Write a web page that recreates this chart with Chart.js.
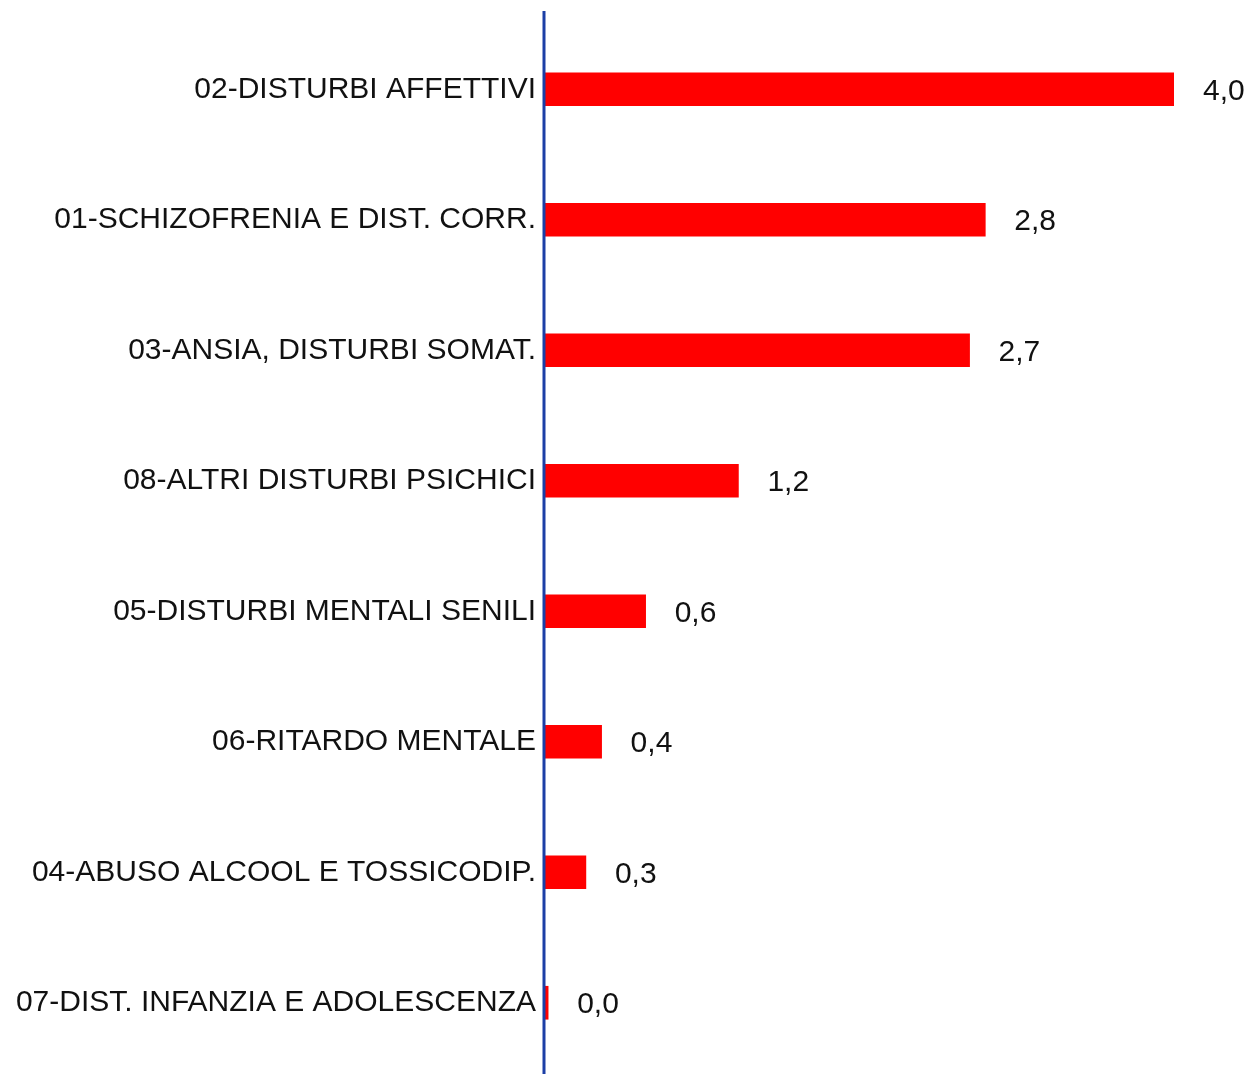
<!DOCTYPE html>
<html>
<head>
<meta charset="utf-8">
<script src="https://cdn.jsdelivr.net/npm/chart.js@4/dist/chart.umd.min.js"></script>
<style>
  html, body { margin: 0; padding: 0; background: #ffffff; }
  #wrap { width: 1250px; height: 1074px; }
</style>
</head>
<body>
<div id="wrap"><canvas id="c" width="1250" height="1074"></canvas></div>
<script>
const categories = [
  "02-DISTURBI AFFETTIVI",
  "01-SCHIZOFRENIA E DIST. CORR.",
  "03-ANSIA, DISTURBI SOMAT.",
  "08-ALTRI DISTURBI PSICHICI",
  "05-DISTURBI MENTALI SENILI",
  "06-RITARDO MENTALE",
  "04-ABUSO ALCOOL E TOSSICODIP.",
  "07-DIST. INFANZIA E ADOLESCENZA"
];
const values = [4.0, 2.8, 2.7, 1.23, 0.64, 0.36, 0.26, 0.02];
const axisMin = 0;
const axisMax = 4.0;

const FONT = "'Liberation Sans', Arial, sans-serif";

const valueLabels = {
  id: 'valueLabels',
  afterDatasetsDraw(chart) {
    const ctx = chart.ctx;
    const meta = chart.getDatasetMeta(0);
    ctx.save();
    ctx.font = "30px " + FONT;
    ctx.fillStyle = "#111111";
    ctx.textAlign = "left";
    ctx.textBaseline = "middle";
    meta.data.forEach((bar, i) => {
      const txt = values[i].toFixed(1).replace('.', ',');
      ctx.fillText(txt, bar.x + 29, bar.y + 2);
    });
    ctx.restore();
  }
};

const axisLine = {
  id: 'axisLine',
  afterDraw(chart) {
    const ctx = chart.ctx;
    const x = chart.scales.x.getPixelForValue(0) - 1;
    ctx.save();
    ctx.strokeStyle = "#1c3fa6";
    ctx.lineWidth = 3;
    ctx.beginPath();
    ctx.moveTo(x, chart.chartArea.top - 13);
    ctx.lineTo(x, chart.height);
    ctx.stroke();
    ctx.restore();
  }
};

new Chart(document.getElementById('c'), {
  type: 'bar',
  data: {
    labels: categories,
    datasets: [{
      data: values,
      backgroundColor: '#ff0000',
      borderWidth: 0,
      barThickness: 33
    }]
  },
  options: {
    indexAxis: 'y',
    responsive: false,
    animation: false,
    layout: { padding: { left: 0, right: 76, top: 24, bottom: 6 } },
    plugins: { legend: { display: false }, tooltip: { enabled: false } },
    scales: {
      x: {
        display: false,
        min: axisMin,
        max: axisMax
      },
      y: {
        grid: { display: false, drawTicks: false },
        border: { display: false },
        ticks: {
          color: '#111111',
          padding: 9,
          font: { family: FONT, size: 30 }
        },
        afterFit(scale) {
          scale.width = 545;
          scale.paddingTop = 0;
          scale.paddingBottom = 0;
        }
      }
    }
  },
  plugins: [valueLabels, axisLine]
});
</script>
</body>
</html>
